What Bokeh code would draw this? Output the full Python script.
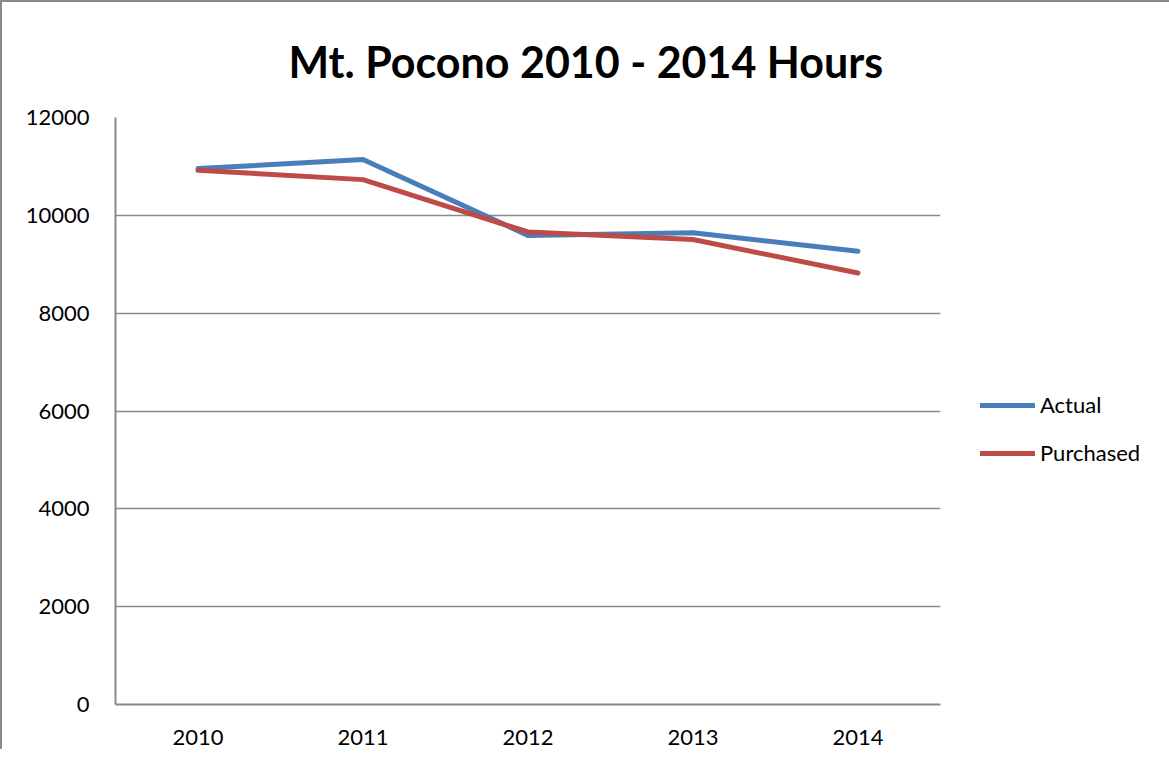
from bokeh.plotting import figure
from bokeh.models import FactorRange, Range1d, FixedTicker, Legend, LegendItem, Title
from bokeh.embed import file_html
from bokeh.resources import INLINE

years = ["2010", "2011", "2012", "2013", "2014"]
actual = [10955, 11140, 9590, 9645, 9265]
purchased = [10920, 10730, 9660, 9505, 8820]
y_ticks = [0, 2000, 4000, 6000, 8000, 10000, 12000]
title_text = "Mt. Pocono 2010 - 2014 Hours"

FONT = "Lato"
GRID = "#8a8a8a"

p = figure(
    x_range=FactorRange(factors=years),
    y_range=Range1d(0, 12000),
    frame_width=825, frame_height=587,
    min_border_left=113, min_border_right=213,
    min_border_top=115, min_border_bottom=45,
    output_backend="svg", toolbar_location=None,
    background_fill_color="white", border_fill_color="white",
)
p.title = None
p.outline_line_color = None
p.styles = {"border-left": "2px solid #8a8a8a", "border-top": "2px solid #8a8a8a"}

t = Title(text=title_text, align="left", offset=173, standoff=62,
          text_font=FONT, text_font_size="43px", text_font_style="bold",
          text_line_height=0.9, text_color="#000000")
p.add_layout(t, "above")

# axes
p.yaxis.ticker = FixedTicker(ticks=y_ticks)
for ax in (p.xaxis, p.yaxis):
    ax.axis_line_color = GRID
    ax.axis_line_width = 2
    ax.major_tick_line_color = None
    ax.minor_tick_line_color = None
    ax.major_label_text_font = FONT
    ax.major_label_text_font_size = "22px"
    ax.major_label_text_color = "#000000"
p.yaxis.major_label_standoff = 20
p.xaxis.major_label_standoff = 19
p.xgrid.grid_line_color = None
p.ygrid.grid_line_color = GRID
p.ygrid.grid_line_width = 1.5
p.ygrid.ticker = FixedTicker(ticks=y_ticks)

r1 = p.line(years, actual, line_color="#4a7ebb", line_width=5,
            line_cap="round", line_join="round")
r2 = p.line(years, purchased, line_color="#be4b48", line_width=5,
            line_cap="round", line_join="round")

legend = Legend(
    items=[LegendItem(label="Actual", renderers=[r1]),
           LegendItem(label="Purchased", renderers=[r2])],
    location=(40, 238),
    glyph_width=55, glyph_height=24, label_height=24, spacing=21,
    label_standoff=5, padding=0, margin=0,
    border_line_color=None, background_fill_alpha=0,
    label_text_font=FONT, label_text_font_size="22px", label_text_color="#000000",
)
p.add_layout(legend, "right")

open("out.html", "w").write(file_html(p, INLINE))
